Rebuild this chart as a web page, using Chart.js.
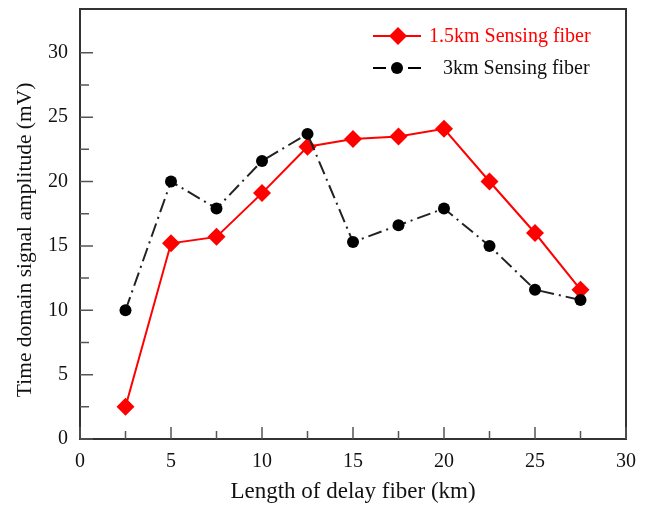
<!DOCTYPE html>
<html><head><meta charset="utf-8">
<script src="https://cdn.jsdelivr.net/npm/chart.js@4/dist/chart.umd.min.js"></script>
<style>html,body{margin:0;padding:0;background:#fff}#wrap{width:648px;height:508px}</style>
</head><body><div id="wrap"><canvas id="c" width="648" height="508"></canvas></div>
<script>
const delayLengths = [2.5, 5, 7.5, 10, 12.5, 15, 17.5, 20, 22.5, 25, 27.5];
const fiber15km = [2.5, 15.2, 15.7, 19.1, 22.7, 23.3, 23.5, 24.1, 20.0, 16.0, 11.6];
const fiber3km = [10.0, 20.0, 17.9, 21.6, 23.7, 15.3, 16.6, 17.9, 15.0, 11.6, 10.8];
const xTicks = [0, 5, 10, 15, 20, 25, 30];
const yTicks = [0, 5, 10, 15, 20, 25, 30];
const xMinorTicks = [2.5, 7.5, 12.5, 17.5, 22.5, 27.5];
const yMinorTicks = [2.5, 7.5, 12.5, 17.5, 22.5, 27.5];
const seriesNames = ['1.5km Sensing fiber', '3km Sensing fiber'];
const xTitle = 'Length of delay fiber (km)';
const yTitle = 'Time domain signal amplitude (mV)';

const FONT = '"Liberation Serif", "Times New Roman", serif';
const RED = '#ff0000';
const AXIS = '#333';

const framePlugin = {
  id: 'frame',
  beforeDatasetsDraw(chart) {
    const {ctx, chartArea: a, scales: {x, y}} = chart;
    ctx.save();
    ctx.strokeStyle = AXIS;
    ctx.lineWidth = 2;
    ctx.strokeRect(a.left, a.top, a.right - a.left, a.bottom - a.top);
    ctx.strokeStyle = '#555';
    ctx.lineWidth = 1.5;
    ctx.beginPath();
    xTicks.forEach(v => { const px = x.getPixelForValue(v); ctx.moveTo(px, a.bottom); ctx.lineTo(px, a.bottom - 12); });
    xMinorTicks.forEach(v => { const px = x.getPixelForValue(v); ctx.moveTo(px, a.bottom); ctx.lineTo(px, a.bottom - 8); });
    yTicks.forEach(v => { const py = y.getPixelForValue(v); ctx.moveTo(a.left, py); ctx.lineTo(a.left + 13, py); });
    yMinorTicks.forEach(v => { const py = y.getPixelForValue(v); ctx.moveTo(a.left, py); ctx.lineTo(a.left + 9, py); });
    ctx.stroke();
    ctx.restore();
  },
  afterDraw(chart) {
    const {ctx, scales: {y}} = chart;
    ctx.save();
    ctx.font = '21.5px ' + FONT;
    ctx.fillStyle = '#111';
    ctx.textAlign = 'center';
    ctx.textBaseline = 'middle';
    ctx.translate(25, (y.getPixelForValue(0) + y.getPixelForValue(30)) / 2 - 6);
    ctx.rotate(-Math.PI / 2);
    ctx.fillText(yTitle, 0, 0);
    ctx.restore();

    ctx.save();
    ctx.font = '20px ' + FONT;
    ctx.textBaseline = 'middle';
    ctx.textAlign = 'left';
    let ly = 36;
    ctx.strokeStyle = RED; ctx.lineWidth = 2;
    ctx.beginPath(); ctx.moveTo(373, ly); ctx.lineTo(421, ly); ctx.stroke();
    ctx.fillStyle = RED;
    ctx.beginPath(); ctx.moveTo(398, ly - 9); ctx.lineTo(407, ly); ctx.lineTo(398, ly + 9); ctx.lineTo(389, ly); ctx.closePath(); ctx.fill();
    ctx.fillText(seriesNames[0], 429, ly + 1);
    ly = 68;
    ctx.strokeStyle = '#000'; ctx.lineWidth = 2;
    ctx.beginPath(); ctx.moveTo(373, ly); ctx.lineTo(386, ly); ctx.moveTo(408, ly); ctx.lineTo(421, ly); ctx.stroke();
    ctx.fillStyle = '#000';
    ctx.beginPath(); ctx.arc(397, ly, 6, 0, Math.PI * 2); ctx.fill();
    ctx.fillStyle = '#111';
    ctx.fillText(seriesNames[1], 443, ly + 1);
    ctx.restore();
  }
};

new Chart(document.getElementById('c'), {
  type: 'line',
  data: {
    datasets: [
      {
        label: seriesNames[1],
        data: delayLengths.map((v, i) => ({x: v, y: fiber3km[i]})),
        borderColor: '#222', borderWidth: 2, borderDash: [14, 5, 2, 5],
        pointStyle: 'circle', pointRadius: 6, pointBackgroundColor: '#000', pointBorderColor: '#000', pointBorderWidth: 0,
        tension: 0, fill: false
      },
      {
        label: seriesNames[0],
        data: delayLengths.map((v, i) => ({x: v, y: fiber15km[i]})),
        borderColor: RED, borderWidth: 2,
        pointStyle: 'rectRot', pointRadius: 9, pointBackgroundColor: RED, pointBorderColor: RED, pointBorderWidth: 0,
        tension: 0, fill: false
      }
    ]
  },
  options: {
    responsive: false, animation: false, devicePixelRatio: 1,
    layout: {padding: {left: 0, top: 8, right: 22, bottom: 0}},
    plugins: {legend: {display: false}, tooltip: {enabled: false}},
    scales: {
      x: {
        type: 'linear', min: 0, max: 30,
        afterBuildTicks: s => { s.ticks = xTicks.map(v => ({value: v})); },
        afterFit: s => { s.height = 69; s.paddingLeft = 0; s.paddingRight = 0; },
        grid: {display: false, drawTicks: false},
        border: {display: false},
        ticks: {font: {family: FONT, size: 20}, color: '#111', padding: 11, maxRotation: 0},
        title: {display: true, text: xTitle, font: {family: FONT, size: 23}, color: '#111', padding: {top: 0, bottom: 2}}
      },
      y: {
        type: 'linear', min: 0, max: 33.4,
        afterBuildTicks: s => { s.ticks = yTicks.map(v => ({value: v})); },
        afterFit: s => { s.width = 80; s.paddingTop = 0; s.paddingBottom = 0; },
        grid: {display: false, drawTicks: false},
        border: {display: false},
        ticks: {font: {family: FONT, size: 20}, color: '#111', padding: 12}
      }
    }
  },
  plugins: [framePlugin]
});
</script>
</body></html>
